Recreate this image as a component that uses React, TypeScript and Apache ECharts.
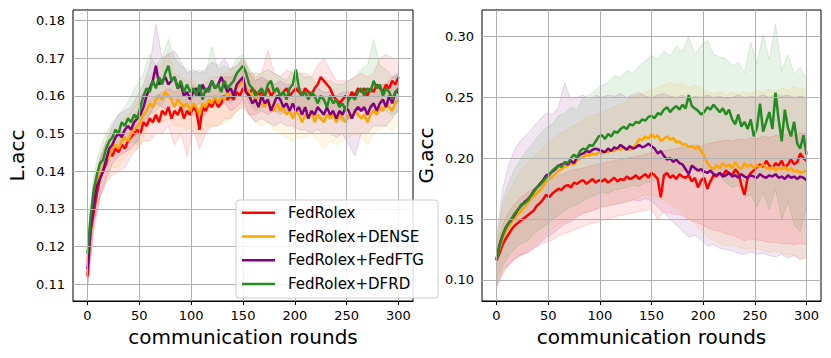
import React, { useEffect, useRef } from "react";
import * as echarts from "echarts";

// ---------- categories / names ----------
const SERIES_NAMES = ["FedRolex", "FedRolex+DENSE", "FedRolex+FedFTG", "FedRolex+DFRD"];
const SERIES_COLORS = ["#ff0000", "#ffa500", "#800080", "#228b22"];
const X_TICKS = [0, 50, 100, 150, 200, 250, 300];
const L_TICKS = [0.11, 0.12, 0.13, 0.14, 0.15, 0.16, 0.17, 0.18];
const G_TICKS = [0.1, 0.15, 0.2, 0.25, 0.3];

// x positions (communication rounds) of the sampled points
const LINE_ROUNDS = Array.from({ length: 101 }, (_, i) => i * 3);
const BAND_ROUNDS = Array.from({ length: 51 }, (_, i) => i * 6);

// ---------- left panel: L.acc means ----------
const L_FEDROLEX = [
  0.112, 0.124, 0.129, 0.134, 0.138, 0.140, 0.142, 0.145, 0.144, 0.146,
  0.145, 0.147, 0.146, 0.148, 0.149, 0.150, 0.151, 0.150, 0.153, 0.152,
  0.154, 0.153, 0.155, 0.153, 0.156, 0.155, 0.157, 0.154, 0.156, 0.155,
  0.157, 0.154, 0.156, 0.155, 0.157, 0.156, 0.151, 0.157, 0.156, 0.158,
  0.157, 0.159, 0.157, 0.158, 0.160, 0.159, 0.160, 0.159, 0.161, 0.160,
  0.162, 0.161, 0.160, 0.162, 0.161, 0.160, 0.161, 0.160, 0.162, 0.160,
  0.161, 0.162, 0.160, 0.161, 0.162, 0.160, 0.161, 0.162, 0.161, 0.160,
  0.162, 0.161, 0.160, 0.162, 0.163, 0.165, 0.164, 0.163, 0.162, 0.160,
  0.159, 0.158, 0.159, 0.160, 0.159, 0.161, 0.160, 0.162, 0.161, 0.162,
  0.160, 0.162, 0.161, 0.163, 0.162, 0.161, 0.163, 0.162, 0.164, 0.163,
  0.165,
];
const L_DENSE = [
  0.116, 0.126, 0.132, 0.137, 0.139, 0.141, 0.143, 0.144, 0.146, 0.147,
  0.146, 0.148, 0.149, 0.148, 0.150, 0.151, 0.152, 0.153, 0.155, 0.156,
  0.158, 0.157, 0.159, 0.160, 0.159, 0.161, 0.160, 0.159, 0.157, 0.159,
  0.158, 0.157, 0.158, 0.156, 0.158, 0.157, 0.155, 0.158, 0.157, 0.159,
  0.158, 0.160, 0.158, 0.160, 0.159, 0.161, 0.160, 0.161, 0.162, 0.163,
  0.164, 0.162, 0.161, 0.160, 0.159, 0.160, 0.158, 0.157, 0.159, 0.157,
  0.156, 0.158, 0.156, 0.157, 0.155, 0.156, 0.154, 0.156, 0.155, 0.153,
  0.155, 0.154, 0.156, 0.153, 0.155, 0.154, 0.153, 0.155, 0.154, 0.155,
  0.153, 0.155, 0.154, 0.153, 0.155, 0.154, 0.156, 0.155, 0.154, 0.155,
  0.153, 0.155, 0.156, 0.155, 0.157, 0.156, 0.158, 0.157, 0.156, 0.158,
  0.159,
];
const L_FEDFTG = [
  0.114, 0.125, 0.131, 0.136, 0.138, 0.140, 0.143, 0.146, 0.147, 0.149,
  0.150, 0.149, 0.151, 0.152, 0.151, 0.153, 0.154, 0.155, 0.157, 0.160,
  0.162, 0.164, 0.168, 0.163, 0.164, 0.165, 0.163, 0.164, 0.165, 0.162,
  0.163, 0.160, 0.161, 0.159, 0.161, 0.162, 0.160, 0.163, 0.161, 0.162,
  0.164, 0.162, 0.163, 0.165, 0.163, 0.161, 0.162, 0.160, 0.163, 0.164,
  0.165, 0.161, 0.160, 0.158, 0.159, 0.157, 0.160, 0.158, 0.159, 0.156,
  0.158, 0.160, 0.159, 0.157, 0.158, 0.156, 0.158, 0.156, 0.157, 0.155,
  0.157, 0.154, 0.156, 0.155, 0.157, 0.156, 0.155, 0.157, 0.155, 0.156,
  0.154, 0.156, 0.155, 0.157, 0.156, 0.154, 0.156, 0.157, 0.156, 0.157,
  0.155, 0.157, 0.158, 0.156, 0.158, 0.159, 0.157, 0.160, 0.158, 0.161,
  0.161,
];
const L_DFRD = [
  0.118, 0.128, 0.135, 0.139, 0.142, 0.143, 0.146, 0.148, 0.149, 0.151,
  0.150, 0.153, 0.152, 0.154, 0.153, 0.155, 0.154, 0.157, 0.160, 0.162,
  0.161, 0.164, 0.162, 0.165, 0.163, 0.166, 0.168, 0.164, 0.165, 0.162,
  0.164, 0.161, 0.163, 0.161, 0.162, 0.160, 0.163, 0.159, 0.162, 0.161,
  0.164, 0.162, 0.163, 0.161, 0.164, 0.162, 0.163, 0.164, 0.166, 0.167,
  0.168, 0.166, 0.163, 0.162, 0.160, 0.161, 0.162, 0.160, 0.163, 0.164,
  0.161, 0.162, 0.160, 0.161, 0.159, 0.162, 0.163, 0.167, 0.162, 0.160,
  0.161, 0.159, 0.161, 0.160, 0.158, 0.160, 0.159, 0.157, 0.160, 0.158,
  0.159, 0.157, 0.158, 0.156, 0.159, 0.160, 0.159, 0.161, 0.162, 0.160,
  0.162, 0.161, 0.164, 0.162, 0.163, 0.160, 0.162, 0.161, 0.159, 0.161,
  0.162,
];

// ---------- left panel: bands ----------
const L_FEDROLEX_UP = [
  0.115, 0.134, 0.143, 0.147, 0.149, 0.150, 0.151, 0.153, 0.155, 0.158,
  0.159, 0.160, 0.161, 0.162, 0.161, 0.162, 0.161, 0.163, 0.160, 0.162,
  0.163, 0.163, 0.165, 0.165, 0.166, 0.167, 0.166, 0.166, 0.166, 0.172,
  0.166, 0.165, 0.167, 0.166, 0.166, 0.166, 0.165, 0.168, 0.170, 0.167,
  0.164, 0.164, 0.164, 0.165, 0.166, 0.165, 0.166, 0.170, 0.171, 0.170,
  0.170,
];
const L_FEDROLEX_LO = [
  0.109, 0.124, 0.133, 0.137, 0.139, 0.140, 0.141, 0.144, 0.146, 0.148,
  0.148, 0.150, 0.150, 0.152, 0.147, 0.150, 0.144, 0.151, 0.146, 0.150,
  0.152, 0.152, 0.154, 0.154, 0.156, 0.157, 0.155, 0.155, 0.156, 0.155,
  0.156, 0.155, 0.156, 0.155, 0.156, 0.156, 0.155, 0.157, 0.159, 0.157,
  0.154, 0.154, 0.154, 0.155, 0.156, 0.155, 0.156, 0.156, 0.157, 0.158,
  0.159,
];
const L_DENSE_UP = [
  0.120, 0.137, 0.144, 0.148, 0.151, 0.152, 0.154, 0.156, 0.158, 0.161,
  0.165, 0.167, 0.168, 0.172, 0.166, 0.165, 0.164, 0.164, 0.162, 0.164,
  0.165, 0.165, 0.166, 0.167, 0.168, 0.170, 0.167, 0.165, 0.164, 0.164,
  0.162, 0.162, 0.161, 0.160, 0.160, 0.160, 0.161, 0.160, 0.159, 0.160,
  0.159, 0.159, 0.160, 0.161, 0.160, 0.159, 0.161, 0.162, 0.163, 0.162,
  0.163,
];
const L_DENSE_LO = [
  0.112, 0.127, 0.134, 0.138, 0.141, 0.141, 0.144, 0.145, 0.146, 0.149,
  0.152, 0.153, 0.153, 0.154, 0.152, 0.152, 0.151, 0.152, 0.149, 0.151,
  0.152, 0.152, 0.153, 0.154, 0.156, 0.158, 0.155, 0.153, 0.152, 0.153,
  0.151, 0.150, 0.149, 0.148, 0.149, 0.149, 0.150, 0.148, 0.146, 0.148,
  0.147, 0.148, 0.149, 0.150, 0.149, 0.147, 0.150, 0.151, 0.152, 0.151,
  0.153,
];
const L_FEDFTG_UP = [
  0.119, 0.136, 0.143, 0.148, 0.152, 0.155, 0.156, 0.157, 0.160, 0.163,
  0.168, 0.179, 0.170, 0.171, 0.172, 0.169, 0.166, 0.167, 0.166, 0.167,
  0.169, 0.168, 0.170, 0.167, 0.168, 0.170, 0.166, 0.164, 0.165, 0.164,
  0.163, 0.164, 0.163, 0.163, 0.162, 0.162, 0.161, 0.162, 0.161, 0.161,
  0.160, 0.161, 0.161, 0.161, 0.162, 0.161, 0.163, 0.163, 0.163, 0.165,
  0.166,
];
const L_FEDFTG_LO = [
  0.109, 0.126, 0.133, 0.138, 0.142, 0.144, 0.145, 0.146, 0.148, 0.151,
  0.155, 0.158, 0.157, 0.156, 0.158, 0.157, 0.155, 0.155, 0.154, 0.155,
  0.158, 0.157, 0.158, 0.156, 0.157, 0.159, 0.155, 0.153, 0.154, 0.153,
  0.152, 0.153, 0.152, 0.152, 0.151, 0.151, 0.150, 0.151, 0.150, 0.150,
  0.149, 0.150, 0.147, 0.144, 0.150, 0.150, 0.152, 0.152, 0.152, 0.154,
  0.156,
];
const L_DFRD_UP = [
  0.122, 0.139, 0.146, 0.150, 0.153, 0.155, 0.157, 0.160, 0.163, 0.166,
  0.171, 0.168, 0.170, 0.175, 0.170, 0.168, 0.167, 0.166, 0.167, 0.166,
  0.173, 0.167, 0.168, 0.167, 0.170, 0.171, 0.167, 0.165, 0.166, 0.167,
  0.166, 0.165, 0.164, 0.167, 0.166, 0.165, 0.165, 0.163, 0.164, 0.164,
  0.163, 0.163, 0.164, 0.165, 0.167, 0.168, 0.175, 0.168, 0.167, 0.165,
  0.166,
];
const L_DFRD_LO = [
  0.114, 0.131, 0.138, 0.142, 0.145, 0.146, 0.147, 0.148, 0.147, 0.153,
  0.155, 0.156, 0.158, 0.160, 0.159, 0.158, 0.157, 0.157, 0.158, 0.157,
  0.158, 0.158, 0.159, 0.158, 0.161, 0.162, 0.158, 0.156, 0.157, 0.158,
  0.156, 0.156, 0.155, 0.157, 0.157, 0.156, 0.156, 0.154, 0.154, 0.155,
  0.154, 0.153, 0.154, 0.155, 0.157, 0.156, 0.157, 0.157, 0.156, 0.155,
  0.156,
];

// ---------- right panel: G.acc means ----------
const G_FEDROLEX = [
  0.116, 0.122, 0.129, 0.134, 0.138, 0.142, 0.145, 0.147, 0.149, 0.151,
  0.153, 0.155, 0.157, 0.161, 0.163, 0.166, 0.170, 0.168, 0.171, 0.173,
  0.175, 0.174, 0.177, 0.178, 0.176, 0.180, 0.179, 0.181, 0.182, 0.179,
  0.181, 0.183, 0.180, 0.182, 0.181, 0.183, 0.180, 0.182, 0.184, 0.181,
  0.183, 0.182, 0.185, 0.183, 0.184, 0.186, 0.183, 0.185, 0.187, 0.184,
  0.188, 0.186, 0.183, 0.168, 0.186, 0.188, 0.184, 0.186, 0.183, 0.187,
  0.185, 0.184, 0.186, 0.181, 0.184, 0.176, 0.182, 0.184, 0.175, 0.181,
  0.186, 0.185, 0.188, 0.186, 0.190, 0.188, 0.186, 0.191, 0.188, 0.178,
  0.170, 0.184, 0.188, 0.190, 0.193, 0.195, 0.193, 0.198, 0.194, 0.192,
  0.196, 0.194, 0.198, 0.192, 0.195, 0.199, 0.195, 0.197, 0.204, 0.200,
  0.198,
];
const G_DENSE = [
  0.117, 0.126, 0.134, 0.140, 0.144, 0.148, 0.151, 0.154, 0.157, 0.160,
  0.163, 0.166, 0.169, 0.171, 0.174, 0.177, 0.181, 0.183, 0.185, 0.187,
  0.190, 0.191, 0.193, 0.194, 0.196, 0.195, 0.198, 0.200, 0.201, 0.203,
  0.202, 0.204, 0.203, 0.205, 0.204, 0.206, 0.205, 0.207, 0.206, 0.208,
  0.207, 0.209, 0.208, 0.207, 0.209, 0.211, 0.216, 0.215, 0.218, 0.216,
  0.220, 0.217, 0.219, 0.214, 0.216, 0.218, 0.215, 0.217, 0.213, 0.214,
  0.211, 0.212, 0.209, 0.210, 0.208, 0.210, 0.206, 0.202, 0.196, 0.193,
  0.191, 0.194, 0.192, 0.196, 0.193, 0.195, 0.192, 0.197, 0.193, 0.191,
  0.196, 0.193, 0.195, 0.192, 0.194, 0.193, 0.195, 0.192, 0.191, 0.193,
  0.190, 0.192, 0.191, 0.193, 0.190, 0.192, 0.189, 0.190, 0.188, 0.189,
  0.190,
];
const G_FEDFTG = [
  0.117, 0.129, 0.137, 0.143, 0.147, 0.150, 0.154, 0.158, 0.161, 0.164,
  0.166, 0.169, 0.173, 0.176, 0.179, 0.182, 0.186, 0.187, 0.189, 0.191,
  0.194, 0.195, 0.196, 0.195, 0.198, 0.196, 0.201, 0.203, 0.204, 0.206,
  0.205, 0.207, 0.208, 0.207, 0.206, 0.205, 0.208, 0.206, 0.209, 0.208,
  0.211, 0.209, 0.207, 0.210, 0.208, 0.209, 0.211, 0.209, 0.210, 0.212,
  0.210, 0.208, 0.204, 0.206, 0.202, 0.199, 0.200, 0.197, 0.199, 0.196,
  0.195, 0.191, 0.187, 0.194, 0.192, 0.190, 0.191, 0.189, 0.188, 0.190,
  0.187, 0.186, 0.188, 0.185, 0.186, 0.188, 0.185, 0.186, 0.184, 0.187,
  0.185, 0.184, 0.186, 0.185, 0.184, 0.187, 0.185, 0.184, 0.186, 0.185,
  0.187, 0.184, 0.185, 0.183, 0.186, 0.184, 0.185, 0.183, 0.185, 0.184,
  0.182,
];
const G_DFRD = [
  0.116, 0.128, 0.137, 0.143, 0.147, 0.151, 0.155, 0.158, 0.162, 0.163,
  0.165, 0.169, 0.172, 0.176, 0.178, 0.181, 0.184, 0.186, 0.190, 0.192,
  0.194, 0.193, 0.197, 0.196, 0.200, 0.203, 0.201, 0.206, 0.208, 0.207,
  0.211, 0.210, 0.214, 0.218, 0.219, 0.216, 0.220, 0.218, 0.222, 0.221,
  0.224, 0.226, 0.224, 0.228, 0.227, 0.230, 0.229, 0.232, 0.231, 0.234,
  0.235, 0.233, 0.237, 0.236, 0.240, 0.242, 0.238, 0.241, 0.243, 0.240,
  0.244, 0.241, 0.252, 0.243, 0.241, 0.239, 0.236, 0.238, 0.242, 0.240,
  0.244, 0.241, 0.238, 0.241, 0.236, 0.240, 0.232, 0.228, 0.236, 0.226,
  0.230, 0.224, 0.232, 0.218, 0.225, 0.245, 0.222, 0.230, 0.238, 0.224,
  0.254, 0.232, 0.214, 0.240, 0.225, 0.218, 0.230, 0.212, 0.208, 0.219,
  0.203,
];

// ---------- right panel: bands ----------
const G_FEDROLEX_UP = [
  0.125, 0.145, 0.156, 0.163, 0.168, 0.172, 0.175, 0.178, 0.181, 0.183,
  0.186, 0.188, 0.190, 0.191, 0.192, 0.193, 0.195, 0.196, 0.197, 0.198,
  0.199, 0.200, 0.201, 0.202, 0.203, 0.205, 0.204, 0.206, 0.207, 0.208,
  0.209, 0.210, 0.211, 0.210, 0.212, 0.213, 0.214, 0.215, 0.214, 0.216,
  0.215, 0.217, 0.216, 0.218, 0.217, 0.219, 0.218, 0.220, 0.219, 0.221,
  0.220,
];
const G_FEDROLEX_LO = [
  0.093, 0.105, 0.112, 0.117, 0.120, 0.123, 0.126, 0.129, 0.131, 0.133,
  0.136, 0.138, 0.140, 0.142, 0.144, 0.146, 0.147, 0.149, 0.150, 0.152,
  0.153, 0.154, 0.155, 0.156, 0.157, 0.158, 0.150, 0.156, 0.155, 0.154,
  0.153, 0.150, 0.148, 0.146, 0.143, 0.141, 0.140, 0.138, 0.137, 0.135,
  0.132, 0.134, 0.133, 0.132, 0.131, 0.131, 0.130, 0.130, 0.129, 0.130,
  0.129,
];
const G_DENSE_UP = [
  0.130, 0.160, 0.172, 0.182, 0.190, 0.196, 0.201, 0.206, 0.212, 0.215,
  0.220, 0.222, 0.226, 0.228, 0.232, 0.234, 0.236, 0.238, 0.240, 0.242,
  0.244, 0.247, 0.250, 0.252, 0.254, 0.256, 0.258, 0.260, 0.262, 0.260,
  0.262, 0.258, 0.260, 0.257, 0.255, 0.253, 0.255, 0.252, 0.254, 0.252,
  0.255, 0.253, 0.256, 0.254, 0.257, 0.255, 0.258, 0.256, 0.259, 0.257,
  0.258,
];
const G_DENSE_LO = [
  0.096, 0.106, 0.112, 0.117, 0.121, 0.124, 0.128, 0.133, 0.138, 0.142,
  0.146, 0.148, 0.150, 0.153, 0.155, 0.157, 0.158, 0.160, 0.161, 0.162,
  0.164, 0.165, 0.166, 0.168, 0.170, 0.170, 0.168, 0.166, 0.162, 0.160,
  0.156, 0.150, 0.146, 0.140, 0.136, 0.132, 0.130, 0.128, 0.129, 0.127,
  0.126, 0.125, 0.126, 0.124, 0.123, 0.124, 0.122, 0.121, 0.120, 0.116,
  0.121,
];
const G_FEDFTG_UP = [
  0.135, 0.175, 0.195, 0.208, 0.215, 0.220, 0.226, 0.232, 0.237, 0.236,
  0.242, 0.262, 0.248, 0.250, 0.252, 0.248, 0.252, 0.250, 0.252, 0.251,
  0.253, 0.250, 0.252, 0.254, 0.251, 0.250, 0.252, 0.253, 0.251, 0.250,
  0.252, 0.249, 0.251, 0.250, 0.252, 0.250, 0.251, 0.249, 0.250, 0.252,
  0.250, 0.251, 0.250, 0.252, 0.250, 0.253, 0.251, 0.252, 0.250, 0.251,
  0.250,
];
const G_FEDFTG_LO = [
  0.095, 0.108, 0.113, 0.118, 0.121, 0.122, 0.126, 0.130, 0.135, 0.138,
  0.142, 0.146, 0.148, 0.152, 0.155, 0.156, 0.158, 0.160, 0.161, 0.162,
  0.163, 0.164, 0.166, 0.165, 0.167, 0.165, 0.160, 0.155, 0.150, 0.145,
  0.140, 0.135, 0.137, 0.133, 0.128, 0.129, 0.126, 0.125, 0.124, 0.122,
  0.121, 0.123, 0.121, 0.122, 0.120, 0.119, 0.121, 0.118, 0.120, 0.117,
  0.118,
];
const G_DFRD_UP = [
  0.128, 0.165, 0.180, 0.192, 0.200, 0.207, 0.213, 0.220, 0.225, 0.228,
  0.235, 0.237, 0.242, 0.240, 0.250, 0.252, 0.256, 0.260, 0.262, 0.268,
  0.266, 0.272, 0.270, 0.276, 0.280, 0.285, 0.281, 0.288, 0.284, 0.292,
  0.288, 0.300, 0.285, 0.293, 0.297, 0.286, 0.283, 0.282, 0.276, 0.279,
  0.270, 0.295, 0.278, 0.302, 0.281, 0.310, 0.272, 0.285, 0.270, 0.275,
  0.265,
];
const G_DFRD_LO = [
  0.100, 0.112, 0.120, 0.126, 0.130, 0.132, 0.138, 0.142, 0.145, 0.150,
  0.153, 0.157, 0.160, 0.162, 0.165, 0.168, 0.170, 0.172, 0.171, 0.174,
  0.175, 0.176, 0.178, 0.177, 0.180, 0.181, 0.183, 0.184, 0.186, 0.188,
  0.190, 0.192, 0.190, 0.188, 0.189, 0.188, 0.186, 0.180, 0.176, 0.178,
  0.168, 0.170, 0.160, 0.172, 0.158, 0.175, 0.150, 0.165, 0.145, 0.140,
  0.160,
];

const LEFT_MEANS = [L_FEDROLEX, L_DENSE, L_FEDFTG, L_DFRD];
const LEFT_UPS = [L_FEDROLEX_UP, L_DENSE_UP, L_FEDFTG_UP, L_DFRD_UP];
const LEFT_LOS = [L_FEDROLEX_LO, L_DENSE_LO, L_FEDFTG_LO, L_DFRD_LO];
const RIGHT_MEANS = [G_FEDROLEX, G_DENSE, G_FEDFTG, G_DFRD];
const RIGHT_UPS = [G_FEDROLEX_UP, G_DENSE_UP, G_FEDFTG_UP, G_DFRD_UP];
const RIGHT_LOS = [G_FEDROLEX_LO, G_DENSE_LO, G_FEDFTG_LO, G_DFRD_LO];

const FONT = "DejaVu Sans";
const GRID_COLOR = "#b0b0b0";

function rgba(hex: string, a: number) {
  const r = parseInt(hex.slice(1, 3), 16);
  const g = parseInt(hex.slice(3, 5), 16);
  const b = parseInt(hex.slice(5, 7), 16);
  return `rgba(${r},${g},${b},${a})`;
}

function bandSeries(axis: number, lo: number[], up: number[], color: string) {
  return {
    type: "custom",
    xAxisIndex: axis,
    yAxisIndex: axis,
    clip: true,
    silent: true,
    z: 1,
    data: [[BAND_ROUNDS[0], lo[0]]],
    renderItem: (_params: any, api: any) => {
      const pts: number[][] = [];
      for (let i = 0; i < BAND_ROUNDS.length; i++) pts.push(api.coord([BAND_ROUNDS[i], up[i]]));
      for (let i = BAND_ROUNDS.length - 1; i >= 0; i--) pts.push(api.coord([BAND_ROUNDS[i], lo[i]]));
      return {
        type: "polygon",
        shape: { points: pts },
        style: { fill: rgba(color, 0.1), stroke: rgba(color, 0.15), lineWidth: 1 },
      };
    },
  };
}

// gridlines drawn through the axes' scales
function gridLineSeries(axis: number, xs: number[], ys: number[]) {
  return {
    type: "line",
    xAxisIndex: axis,
    yAxisIndex: axis,
    data: [],
    silent: true,
    z: 0,
    markLine: {
      silent: true,
      symbol: "none",
      label: { show: false },
      lineStyle: { color: GRID_COLOR, width: 1, type: "solid" },
      animation: false,
      data: [...xs.map((x) => ({ xAxis: x })), ...ys.map((y) => ({ yAxis: y }))],
    },
  };
}

function lineSeries(axis: number, name: string, values: number[], color: string) {
  return {
    type: "line",
    name,
    xAxisIndex: axis,
    yAxisIndex: axis,
    symbol: "none",
    z: 2,
    data: LINE_ROUNDS.map((x, i) => [x, values[i]]),
    lineStyle: { color, width: 2.5 },
    itemStyle: { color },
  };
}

function xAxisCfg(gridIndex: number) {
  return {
    type: "value",
    gridIndex,
    min: -14,
    max: 314,
    name: "communication rounds",
    nameLocation: "middle",
    nameGap: 26,
    nameTextStyle: { fontSize: 20, fontFamily: FONT, color: "#000" },
    axisLine: { show: true, onZero: false, lineStyle: { color: "#000", width: 1 } },
    axisTick: { show: true, length: 4, customValues: X_TICKS, lineStyle: { color: "#000", width: 1 } },
    axisLabel: {
      fontSize: 13,
      fontFamily: FONT,
      color: "#000",
      margin: 8,
      customValues: X_TICKS,
      formatter: (v: number) => String(Math.round(v)),
    },
    splitLine: { show: false },
  };
}

function yAxisCfg(gridIndex: number, name: string, min: number, max: number, ticks: number[]) {
  return {
    type: "value",
    gridIndex,
    min,
    max,
    name,
    nameLocation: "middle",
    nameGap: 46,
    nameTextStyle: { fontSize: 20, fontFamily: FONT, color: "#000" },
    axisLine: { show: true, lineStyle: { color: "#000", width: 1 } },
    axisTick: { show: true, length: 4, customValues: ticks, lineStyle: { color: "#000", width: 1 } },
    axisLabel: {
      fontSize: 13,
      fontFamily: FONT,
      color: "#000",
      margin: 8,
      customValues: ticks,
      formatter: (v: number) => v.toFixed(2),
    },
    splitLine: { show: false },
  };
}

export default function App() {
  const ref = useRef<HTMLDivElement>(null);

  useEffect(() => {
    if (!ref.current) return;
    const chart = echarts.init(ref.current, undefined, { renderer: "svg" });

    const series: any[] = [gridLineSeries(0, X_TICKS, L_TICKS), gridLineSeries(1, X_TICKS, G_TICKS)];
    for (let i = 0; i < 4; i++) {
      series.push(bandSeries(0, LEFT_LOS[i], LEFT_UPS[i], SERIES_COLORS[i]));
      series.push(bandSeries(1, RIGHT_LOS[i], RIGHT_UPS[i], SERIES_COLORS[i]));
    }
    for (let i = 0; i < 4; i++) {
      series.push(lineSeries(0, SERIES_NAMES[i], LEFT_MEANS[i], SERIES_COLORS[i]));
      series.push(lineSeries(1, SERIES_NAMES[i], RIGHT_MEANS[i], SERIES_COLORS[i]));
    }

    const legendTop = 200;
    const rowY = (i: number) => 212.7 + i * 23.8;
    const legendChildren: any[] = [
      {
        type: "rect",
        z: 100,
        shape: { x: 236, y: legendTop, width: 202, height: 98, r: 3 },
        style: { fill: "rgba(255,255,255,0.85)", stroke: "#cccccc", lineWidth: 1 },
      },
    ];
    SERIES_NAMES.forEach((name, i) => {
      legendChildren.push({
        type: "line",
        z: 101,
        shape: { x1: 242, y1: rowY(i), x2: 275, y2: rowY(i) },
        style: { stroke: SERIES_COLORS[i], lineWidth: 2.5 },
      });
      legendChildren.push({
        type: "text",
        z: 101,
        x: 288,
        y: rowY(i),
        style: {
          text: name,
          fill: "#000",
          fontSize: 15,
          fontFamily: FONT,
          verticalAlign: "middle",
          align: "left",
        },
      });
    });

    chart.setOption({
      animation: false,
      backgroundColor: "#ffffff",
      grid: [
        { left: 73, top: 10, width: 340, height: 291, show: true, borderColor: "#000", borderWidth: 1, backgroundColor: "transparent" },
        { left: 482, top: 10, width: 339, height: 291, show: true, borderColor: "#000", borderWidth: 1, backgroundColor: "transparent" },
      ],
      xAxis: [xAxisCfg(0), xAxisCfg(1)],
      yAxis: [
        yAxisCfg(0, "L.acc", 0.1055, 0.1828, L_TICKS),
        yAxisCfg(1, "G.acc", 0.0827, 0.3219, G_TICKS),
      ],
      series,
      graphic: [{ type: "group", z: 100, children: legendChildren }],
    });

    return () => chart.dispose();
  }, []);

  return (
    <div
      ref={ref}
      style={{ position: "fixed", left: 0, top: 0, width: 831, height: 358, background: "#fff" }}
    />
  );
}
